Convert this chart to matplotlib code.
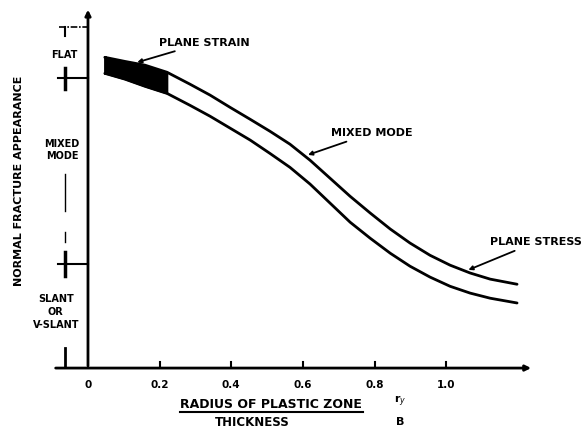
import numpy as np
import matplotlib.pyplot as plt

# readings taken off the scanned figure (x = r_y / B, y = normalised fracture appearance)
curve_x = [0.047, 0.103, 0.159, 0.221, 0.285, 0.341, 0.397, 0.453, 0.508, 0.564, 0.620,
           0.676, 0.732, 0.788, 0.844, 0.899, 0.955, 1.011, 1.067, 1.123, 1.198]
upper_y = [0.912, 0.900, 0.889, 0.868, 0.833, 0.801, 0.765, 0.730, 0.695, 0.657, 0.610,
           0.557, 0.504, 0.455, 0.408, 0.367, 0.331, 0.302, 0.279, 0.261, 0.246]
lower_y = [0.865, 0.848, 0.827, 0.806, 0.771, 0.739, 0.704, 0.669, 0.630, 0.589, 0.540,
           0.484, 0.428, 0.381, 0.337, 0.299, 0.267, 0.240, 0.220, 0.205, 0.191]
strain_end = 4  # first points form the filled plane-strain part

xticks = [0, 0.2, 0.4, 0.6, 0.8, 1.0]
xticklabels = ["0", "0.2", "0.4", "0.6", "0.8", "1.0"]
zone_bounds = [1.0, 0.85, 0.306]

fig = plt.figure(figsize=(5.83, 4.32), dpi=100)
ax = fig.add_axes([0.0686, 0.148, 0.892, 0.840])
ax.set_xlim(-0.134, 1.318)
ax.set_ylim(0, 1.065)
ax.axis("off")

font = dict(family="DejaVu Sans", weight="bold", color="black")
lw = 2.0

# axes with arrows
ax.annotate("", xy=(0, 1.06), xytext=(0, -0.002),
            arrowprops=dict(arrowstyle="-|>", lw=lw, color="black", mutation_scale=8))
ax.annotate("", xy=(1.245, 0), xytext=(-0.098, 0),
            arrowprops=dict(arrowstyle="-|>", lw=lw, color="black", mutation_scale=8))

for xt, lab in zip(xticks, xticklabels):
    if xt > 0:
        ax.plot([xt, xt], [0, 0.018], color="black", lw=1.5)
    ax.text(xt, -0.05, lab, ha="center", va="center", fontsize=7.5, clip_on=False, **font)

# curves
ax.plot(curve_x, upper_y, color="black", lw=lw, solid_joinstyle="round", solid_capstyle="round")
ax.plot(curve_x, lower_y, color="black", lw=lw, solid_joinstyle="round", solid_capstyle="round")
ax.fill_between(curve_x[:strain_end], lower_y[:strain_end], upper_y[:strain_end], color="black")
ax.plot([curve_x[0], curve_x[0]], [lower_y[0], upper_y[0]], color="black", lw=lw)

# zone markers on the left
xm = -0.064
ax.plot([-0.08, 0], [zone_bounds[0], zone_bounds[0]], color="black", lw=1.2, ls=(0, (4, 1, 1, 1)))
ax.plot([xm, xm], [zone_bounds[0], 0.975], color="black", lw=1.5)
ax.plot([xm, xm], [0.88, 0.82], color="black", lw=2.5)
ax.plot([-0.085, 0], [zone_bounds[1], zone_bounds[1]], color="black", lw=1.5)
ax.plot([xm, xm], [0.57, 0.46], color="black", lw=1.0)
ax.plot([xm, xm], [0.40, 0.37], color="black", lw=1.0)
ax.plot([xm, xm], [0.34, 0.27], color="black", lw=2.5)
ax.plot([-0.085, 0], [zone_bounds[2], zone_bounds[2]], color="black", lw=1.5)
ax.plot([xm, xm], [0.06, 0.0], color="black", lw=2.0)

ax.text(-0.067, 0.918, "FLAT", ha="center", va="center", fontsize=7, **font)
ax.text(-0.072, 0.64, "MIXED\nMODE", ha="center", va="center", fontsize=7,
        linespacing=1.3, **font)
ax.text(-0.09, 0.165, "SLANT\nOR\nV-SLANT", ha="center", va="center", fontsize=7,
        linespacing=1.4, **font)
ax.text(-0.193, 0.55, "NORMAL FRACTURE APPEARANCE", rotation=90, ha="center", va="center",
        fontsize=8, clip_on=False, **font)

# curve labels with leader arrows
arrow = dict(arrowstyle="-|>", lw=1.3, color="black", mutation_scale=6)
ax.annotate("PLANE STRAIN", xy=(0.13, 0.895), xytext=(0.197, 0.955),
            ha="left", va="center", fontsize=8, arrowprops=arrow, **font)
ax.annotate("MIXED MODE", xy=(0.607, 0.623), xytext=(0.678, 0.69),
            ha="left", va="center", fontsize=8, arrowprops=arrow, **font)
ax.annotate("PLANE STRESS", xy=(1.055, 0.285), xytext=(1.123, 0.37),
            ha="left", va="center", fontsize=8, arrowprops=arrow, **font)

# x axis label
ax.text(0.511, -0.108, "RADIUS OF PLASTIC ZONE", ha="center", va="center", fontsize=9,
        clip_on=False, **font)
ax.plot([0.257, 0.768], [-0.129, -0.129], color="black", lw=1.5, clip_on=False)
ax.text(0.458, -0.161, "THICKNESS", ha="center", va="center", fontsize=8.5, clip_on=False, **font)
ax.text(0.872, -0.097, "r$_y$", ha="center", va="center", fontsize=8, clip_on=False, **font)
ax.text(0.872, -0.158, "B", ha="center", va="center", fontsize=8, clip_on=False, **font)

fig.savefig("out.png", dpi=100)
